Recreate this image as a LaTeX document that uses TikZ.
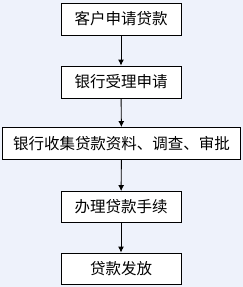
\documentclass[tikz,border=0pt]{standalone}
\usepackage{fontspec}
\newfontfamily\cjk{Noto Sans CJK SC}
\usetikzlibrary{arrows.meta}
\definecolor{bg}{RGB}{238,242,251}
\begin{document}
\begin{tikzpicture}[x=1pt,y=-1pt,
  stepbox/.style={draw=black,line width=0.9pt,fill=white,inner sep=0pt,font=\cjk\fontsize{15.5}{18}\selectfont},
  conn/.style={line width=0.9pt,-{Latex[length=6pt,width=6pt]}}]
\fill[bg] (0,0) rectangle (243,287);
\useasboundingbox (0,0) rectangle (243,287);
\node[stepbox,minimum width=120pt,minimum height=32pt] (a) at (121,19) {客户申请贷款};
\node[stepbox,minimum width=120pt,minimum height=32pt] (b) at (121,82) {银行受理申请};
\node[stepbox,minimum width=238pt,minimum height=32pt] (c) at (121.5,143.5) {银行收集贷款资料、调查、审批};
\node[stepbox,minimum width=120pt,minimum height=31pt] (d) at (121,207) {办理贷款手续};
\node[stepbox,minimum width=120pt,minimum height=31pt] (e) at (121,268.5) {贷款发放};
\draw[conn] (a) -- (b);
\draw[conn] (b) -- (c);
\draw[conn] (c) -- (d);
\draw[conn] (d) -- (e);
\end{tikzpicture}
\end{document}
